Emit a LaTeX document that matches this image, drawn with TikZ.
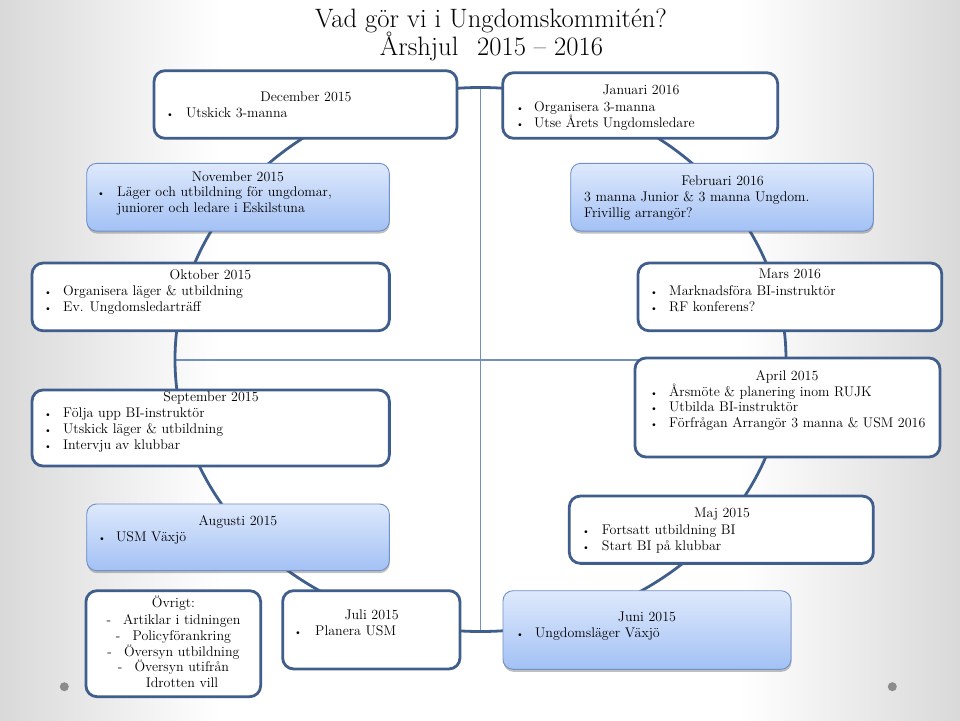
\documentclass[tikz,border=0pt]{standalone}
\usetikzlibrary{shadows}
\definecolor{wheel}{HTML}{3F5E8C}
\definecolor{crossc}{HTML}{7590B8}
\definecolor{gtop}{HTML}{DEE9FC}
\definecolor{gbot}{HTML}{A3C1F5}
\definecolor{gborder}{HTML}{7190C6}
\definecolor{dotc}{HTML}{8C8C8C}
\newcommand\hd[4]{\node[txt,anchor=base] (#1) at (#2,#3) {#4};}
\newcommand\bitem[5]{\node[txt,anchor=base] (#1b) at (#2,#4) {{\fontsize{10}{10}\selectfont\textbullet}};
  \node[txt,anchor=base west] (#1) at (#3,#4) {#5};}
\newcommand\plain[4]{\node[txt,anchor=base west] (#1) at (#2,#3) {#4};}
\begin{document}
\begin{tikzpicture}[x=1pt,y=-1pt,
  wbox/.style={draw=wheel, line width=2.8pt, fill=white, rounded corners=11pt, inner sep=0pt},
  gbox/.style={draw=gborder, line width=0.9pt, top color=gtop, bottom color=gbot,
    rounded corners=10pt, inner sep=0pt,
    drop shadow={shadow xshift=0.5pt, shadow yshift=-2.5pt, opacity=0.35, fill=black!70}},
  txt/.style={inner sep=0pt, font=\fontsize{14}{16}\selectfont},
  ttl/.style={inner sep=0pt, font=\fontsize{26.6}{30}\selectfont},
  crossline/.style={draw=crossc, line width=1.4pt},
  wheelline/.style={draw=wheel, line width=2.8pt}]
\useasboundingbox (0,0) rectangle (960,720);
% background
\fill[white] (0,0) rectangle (960,720);
\shade[left color=black!15, right color=white] (0,0) rectangle (220,720);
\shade[left color=white, right color=black!15] (740,0) rectangle (960,720);
% crosshair and wheel
\coordinate (ctop) at (480.7,87);
\coordinate (cbot) at (480.7,632);
\coordinate (cleft) at (175,360);
\coordinate (cright) at (786,360);
\draw[crossline] (ctop) -- (cbot);
\draw[crossline] (cleft) -- (cright);
\draw[wheelline] (480.5,359.5) ellipse [x radius=305.5pt, y radius=272pt];
% title
\node[ttl,anchor=base] (t1) at (491,27.3) {Vad gör vi i Ungdomskommitén?};
\node[ttl,anchor=base] (t2) at (491.5,55) {Årshjul\hspace{0.4em} 2015 – 2016};
% boxes
\node[wbox, minimum width=303pt, minimum height=67.6pt] (dec) at (305.5,104.5) {};
\node[wbox, minimum width=275pt, minimum height=65.6pt] (jan) at (640.2,105.5) {};
\node[gbox, minimum width=302.6pt, minimum height=67.7pt] (nov) at (238,197.2) {};
\node[gbox, minimum width=302.6pt, minimum height=67.7pt] (feb) at (722,197.2) {};
\node[wbox, minimum width=357.3pt, minimum height=67.7pt] (oct) at (210.7,296.9) {};
\node[wbox, minimum width=303.7pt, minimum height=67.7pt] (mar) at (789.9,296.9) {};
\node[wbox, minimum width=357.3pt, minimum height=76pt] (sep) at (210.7,428) {};
\node[wbox, minimum width=305pt, minimum height=99pt] (apr) at (787.5,407.5) {};
\node[gbox, minimum width=302.6pt, minimum height=66.7pt] (aug) at (238,537.3) {};
\node[wbox, minimum width=304pt, minimum height=67.3pt] (maj) at (721.3,529.7) {};
\node[wbox, minimum width=174.7pt, minimum height=106pt] (ovr) at (173.3,643.7) {};
\node[wbox, minimum width=177.3pt, minimum height=78.3pt] (jul) at (371.3,629.8) {};
\node[gbox, minimum width=288pt, minimum height=78.6pt] (jun) at (647,630) {};
% dots
\node[circle, fill=dotc, minimum size=9pt, inner sep=0pt] (dotl) at (64.3,686.7) {};
\node[circle, fill=dotc, minimum size=9pt, inner sep=0pt] (dotr) at (892.3,686.7) {};
% texts
\hd{dech}{306}{101.5}{December 2015}
\bitem{dec1}{170}{186}{117.5}{Utskick 3-manna}
\hd{janh}{641}{94.3}{Januari 2016}
\bitem{jan1}{520}{534}{111}{Organisera 3-manna}
\bitem{jan2}{520}{534}{127}{Utse Årets Ungdomsledare}
\hd{novh}{238}{181}{November 2015}
\bitem{nov1}{101}{117}{196.7}{Läger och utbildning för ungdomar,}
\plain{nov2}{117}{212.5}{juniorer och ledare i Eskilstuna}
\hd{febh}{722.5}{185.7}{Februari 2016}
\plain{feb1}{584}{201.7}{3 manna Junior \& 3 manna Ungdom.}
\plain{feb2}{584}{217}{Frivillig arrangör?}
\hd{octh}{210.5}{279}{Oktober 2015}
\bitem{oct1}{48}{63}{295.7}{Organisera läger \& utbildning}
\bitem{oct2}{48}{63}{311}{Ev. Ungdomsledarträff}
\hd{marh}{790}{278}{Mars 2016}
\bitem{mar1}{654}{669}{295}{Marknadsföra BI-instruktör}
\bitem{mar2}{654}{669}{311}{RF konferens?}
\hd{seph}{211}{401}{September 2015}
\bitem{sep1}{48}{63}{417.3}{Följa upp BI-instruktör}
\bitem{sep2}{48}{63}{433.3}{Utskick läger \& utbildning}
\bitem{sep3}{48}{63}{449.3}{Intervju av klubbar}
\hd{aprh}{787}{380}{April 2015}
\bitem{apr1}{654}{669}{396}{Årsmöte \& planering inom RUJK}
\bitem{apr2}{654}{669}{411.7}{Utbilda BI-instruktör}
\bitem{apr3}{654}{669}{427.3}{Förfrågan Arrangör 3 manna \& USM 2016}
\hd{augh}{238}{525}{Augusti 2015}
\bitem{aug1}{102}{116}{541}{USM Växjö}
\hd{majh}{722}{517.7}{Maj 2015}
\bitem{maj1}{586}{601.7}{534.3}{Fortsatt utbildning BI}
\bitem{maj2}{586}{601.7}{550}{Start BI på klubbar}
\hd{ovrh}{173.5}{607.7}{Övrigt:}
\hd{ovr1}{173.5}{624.3}{-\hspace{12pt}Artiklar i tidningen}
\hd{ovr2}{173.5}{640}{-\hspace{12pt}Policyförankring}
\hd{ovr3}{173.5}{656}{-\hspace{12pt}Översyn utbildning}
\hd{ovr4}{173.5}{671.7}{-\hspace{12pt}Översyn utifrån}
\hd{ovr5}{182}{687.7}{Idrotten vill}
\hd{julh}{371.7}{619.3}{Juli 2015}
\bitem{jul1}{298}{315}{635}{Planera USM}
\hd{junh}{647}{621.7}{Juni 2015}
\bitem{jun1}{520}{535}{637.7}{Ungdomsläger Växjö}
\end{tikzpicture}
\end{document}
